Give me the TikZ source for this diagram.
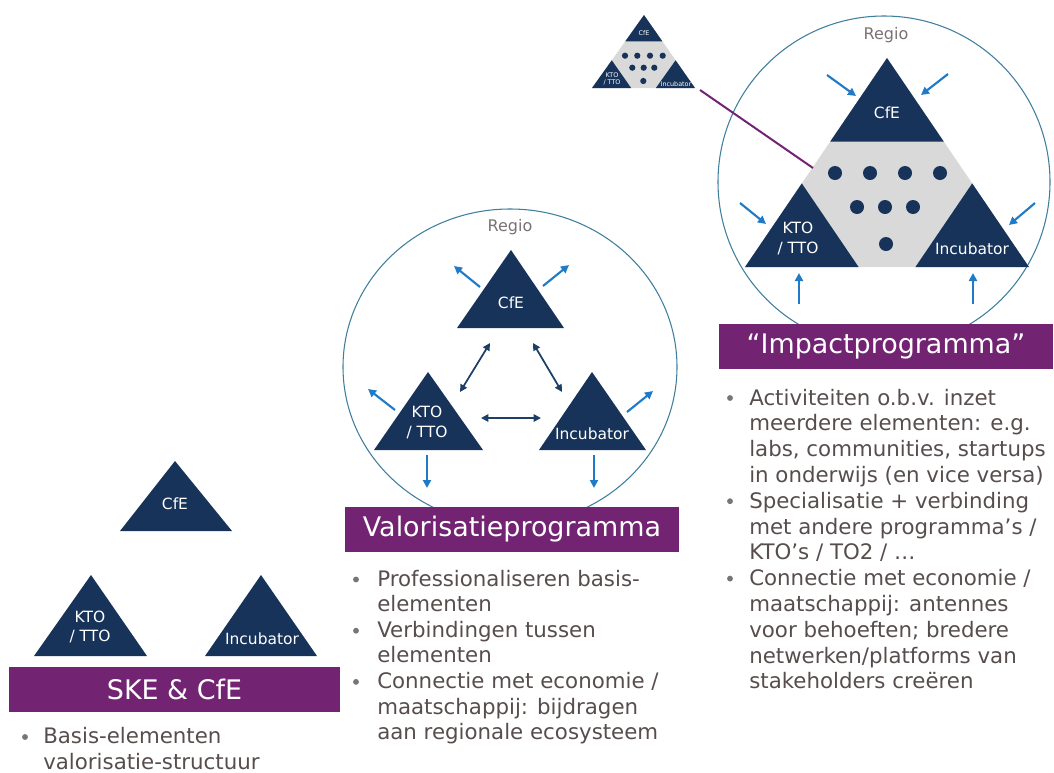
\documentclass[tikz,border=0pt]{standalone}
\usepackage{fontspec}
\setmainfont{DejaVu Sans}
\usetikzlibrary{arrows.meta,calc}
\definecolor{navy}{HTML}{183359}
\definecolor{arrblue}{HTML}{1F7BC8}
\definecolor{arrnavy}{HTML}{1D3F66}
\definecolor{banpurple}{HTML}{722473}
\definecolor{ringcol}{HTML}{3F7E9C}
\definecolor{graytri}{HTML}{D9D9D9}
\definecolor{bodygray}{HTML}{574D4D}
\definecolor{regiogray}{HTML}{7A7272}
\definecolor{bulgray}{HTML}{7A7474}
\newcommand\myBody{\fontsize{16}{19.3}\selectfont}
\newcommand\myBan{\fontsize{20.2}{24}\selectfont}
\newcommand\myLab{\fontsize{11.6}{14.5}\selectfont}
\newcommand\myTiny{\fontsize{4.8}{5.6}\selectfont}
\begin{document}
\begin{tikzpicture}[x=0.75pt,y=-0.75pt,
  tri/.style={fill=navy},
  tlabel/.style={text=white,font=\myLab,align=center,inner sep=0pt},
  tinylabel/.style={text=white,font=\myTiny,align=center,inner sep=0pt},
  ring/.style={draw=ringcol,line width=0.8pt},
  outarr/.style={draw=arrblue,line width=1.6pt,-{Triangle[length=6pt,width=6pt]}},
  dblarr/.style={draw=arrnavy,line width=1.3pt,{Triangle[length=5.5pt,width=5.5pt]}-{Triangle[length=5.5pt,width=5.5pt]}},
  banner/.style={fill=banpurple,text=white,font=\myBan,inner sep=0pt,minimum height=33.75pt},
  bodyline/.style={text=bodygray,font=\myBody,inner sep=0pt,anchor=base west},
  bulletdot/.style={fill=bulgray,circle,inner sep=0pt,minimum size=4.4pt},
  regio/.style={text=regiogray,font=\fontsize{12}{14}\selectfont,inner sep=0pt},
  dot/.style={fill=navy}
]
\useasboundingbox (0,0) rectangle (1054,772);

%================ LEFT GROUP =================
\fill[tri] (175,461) -- (120,531) -- (232,531) -- cycle;
\node[tlabel] (lcfe) at (175,504) {CfE};
\fill[tri] (91,575) -- (34,656) -- (147,656) -- cycle;
\node[tlabel] (lkto) at (90,627) {KTO\\/ TTO};
\fill[tri] (261,575) -- (205,656) -- (317,656) -- cycle;
\node[tlabel] (linc) at (262,639) {Incubator};
\node[banner,minimum width=248.25pt] (lban) at (174.5,689.5) {SKE \& CfE};
\node[bulletdot] (lb1) at (25,737) {};
\foreach \t [count=\i] in {{Basis-elementen},{valorisatie-structuur}}
  \node[bodyline] (ll\i) at (43,{743+26*(\i-1)}) {\t};

%================ MIDDLE GROUP =================
\draw[ring] (510,367) ellipse [x radius=167, y radius=158];
\node[regio] (mregio) at (510,227) {Regio};
\fill[tri] (511,250) -- (457,328) -- (564,328) -- cycle;
\node[tlabel] (mcfe) at (511,303) {CfE};
\fill[tri] (428,372) -- (374,450) -- (483,450) -- cycle;
\node[tlabel] (mkto) at (427,422.5) {KTO\\/ TTO};
\fill[tri] (592,372) -- (539,450) -- (646,450) -- cycle;
\node[tlabel] (minc) at (592,434) {Incubator};
% outward arrows
\coordinate (m1a) at (480,287); \coordinate (m1b) at (454,266);
\coordinate (m2a) at (543,286); \coordinate (m2b) at (569,265);
\coordinate (m3a) at (395,410); \coordinate (m3b) at (368,389);
\coordinate (m4a) at (627,412); \coordinate (m4b) at (653,391);
\coordinate (m5a) at (427,455); \coordinate (m5b) at (427,488);
\coordinate (m6a) at (594,455); \coordinate (m6b) at (594,488);
\foreach \k in {1,...,6} \draw[outarr] (m\k a) -- (m\k b);
% double arrows
\coordinate (d1a) at (490,343); \coordinate (d1b) at (460,392);
\coordinate (d2a) at (533,343); \coordinate (d2b) at (562,392);
\coordinate (d3a) at (481,418); \coordinate (d3b) at (541,418);
\foreach \k in {1,2,3} \draw[dblarr] (d\k a) -- (d\k b);
\node[banner,minimum width=250.5pt] (mban) at (512,529.5) {Valorisatieprogramma};
\foreach \y in {586,637.2,688.4} \node[bulletdot] at (356,\y-6.5) {};
\foreach \t [count=\i] in {{Professionaliseren basis-},{elementen},{Verbindingen tussen},{elementen},{Connectie met economie /},{maatschappij: bijdragen},{aan regionale ecosysteem}}
  \node[bodyline] (ml\i) at (377,{586+25.6*(\i-1)}) {\t};

%================ RIGHT GROUP =================
\draw[ring] (884,182) circle [radius=166];
\node[regio] (rregio) at (886,35) {Regio};
\coordinate (A) at (887,58); \coordinate (B) at (745,267); \coordinate (C) at (1029,267);
\fill[graytri] (A) -- (B) -- (C) -- cycle;
\fill[tri] (A) -- ($(A)!0.4!(B)$) -- ($(A)!0.4!(C)$) -- cycle;
\fill[tri] (B) -- ($(B)!0.4!(A)$) -- ($(B)!0.4!(C)$) -- cycle;
\fill[tri] (C) -- ($(C)!0.4!(A)$) -- ($(C)!0.4!(B)$) -- cycle;
\node[tlabel] (rcfe) at (887,113) {CfE};
\node[tlabel] (rkto) at (798,238.5) {KTO\\/ TTO};
\node[tlabel] (rinc) at (972,249) {Incubator};
\foreach \x in {835,870,905,940} \fill[dot] (\x,173) circle [radius=7];
\foreach \x in {857,885,913} \fill[dot] (\x,207) circle [radius=7];
\fill[dot] (886,244) circle [radius=7];
% inward arrows
\coordinate (r1a) at (827,75);  \coordinate (r1b) at (856,96);
\coordinate (r2a) at (948,74);  \coordinate (r2b) at (921,95);
\coordinate (r3a) at (740,203); \coordinate (r3b) at (766,224);
\coordinate (r4a) at (1035,203);\coordinate (r4b) at (1009,225);
\coordinate (r5a) at (799,304); \coordinate (r5b) at (799,273);
\coordinate (r6a) at (973,304); \coordinate (r6b) at (973,273);
\foreach \k in {1,...,6} \draw[outarr] (r\k a) -- (r\k b);
\node[banner,minimum width=250.5pt] (rban) at (886,346.5) {“Impactprogramma”};
\foreach \y in {405,508.2,585.6} \node[bulletdot] at (730,\y-7) {};
\foreach \t [count=\i] in {{Activiteiten o.b.v. inzet},{meerdere elementen: e.g.},{labs, communities, startups},{in onderwijs (en vice versa)},{Specialisatie + verbinding},{met andere programma’s /},{KTO’s / TO2 / …},{Connectie met economie /},{maatschappij: antennes},{voor behoeften; bredere},{netwerken/platforms van},{stakeholders creëren}}
  \node[bodyline] (rl\i) at (749,{405+25.8*(\i-1)}) {\t};

%================ SMALL TRIANGLE =================
\coordinate (sA) at (644,15); \coordinate (sB) at (592,88); \coordinate (sC) at (695,88);
\fill[graytri] (sA) -- (sB) -- (sC) -- cycle;
\fill[tri] (sA) -- ($(sA)!0.36!(sB)$) -- ($(sA)!0.36!(sC)$) -- cycle;
\fill[tri] (sB) -- ($(sB)!0.38!(sA)$) -- ($(sB)!0.38!(sC)$) -- cycle;
\fill[tri] (sC) -- ($(sC)!0.38!(sA)$) -- ($(sC)!0.38!(sB)$) -- cycle;
\node[tinylabel] (scfe) at (644,33) {CfE};
\node[tinylabel] (skto) at (612,79) {KTO\\/ TTO};
\node[tinylabel] (sinc) at (676,84) {Incubator};
\foreach \x in {625,637.3,650,662.7} \fill[dot] (\x,55.7) circle [radius=3.1];
\foreach \x in {632.3,643.7,654.3} \fill[dot] (\x,67.7) circle [radius=3.1];
\fill[dot] (643.3,81) circle [radius=3.1];
% purple connector
\coordinate (pstart) at (700,90);
\coordinate (pend) at (813,168);
\draw[banpurple,line width=1.5pt] (pstart) -- (pend);
\end{tikzpicture}
\end{document}
